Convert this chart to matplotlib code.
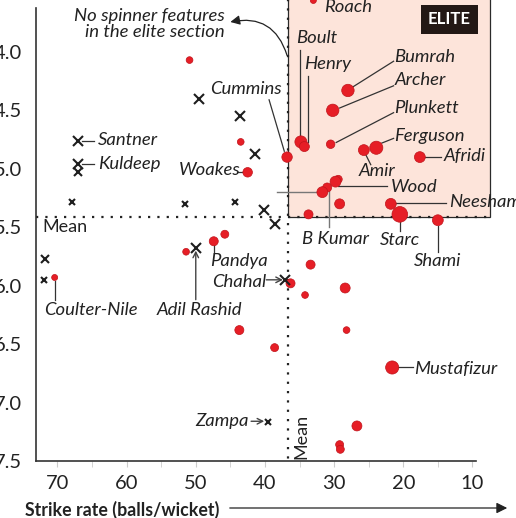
import matplotlib
matplotlib.use('Agg')
import matplotlib.pyplot as plt
from matplotlib.patches import Rectangle
import numpy as np

plt.rcParams['font.family'] = ['Lato', 'DejaVu Sans']

# Pace bowlers: strike rate, economy, wickets (marker area)
pace_names = ['Roach', '', 'Bumrah', 'Archer', '', 'Plunkett', 'Boult', 'Henry',
              'Amir', 'Ferguson', 'Cummins', 'Afridi', 'Woakes', '', 'Wood',
              'B Kumar', '', '', 'Neesham', '', 'Starc', 'Shami', '', 'Pandya',
              '', '', '', '', '', 'Coulter-Nile', '', '', '', 'Mustafizur',
              '', '', '']
pace_sr = [33.0, 50.9, 28.0, 30.2, 43.5, 30.5, 34.8, 34.3,
           25.7, 23.9, 36.8, 17.6, 42.5, 29.4, 29.8,
           31.0, 31.7, 29.2, 21.8, 33.7, 20.5, 15.0, 45.8, 47.4,
           51.4, 33.4, 36.3, 28.4, 34.2, 70.4, 43.7, 28.2, 38.6, 21.6,
           26.7, 29.2, 29.1]
pace_econ = [3.56, 4.07, 4.33, 4.50, 4.77, 4.79, 4.77, 4.81,
             4.84, 4.82, 4.90, 4.90, 5.03, 5.09, 5.11,
             5.16, 5.20, 5.30, 5.30, 5.39, 5.39, 5.44, 5.56, 5.62,
             5.71, 5.82, 5.98, 6.02, 6.08, 5.93, 6.38, 6.38, 6.53, 6.70,
             7.20, 7.36, 7.40]
pace_wkts = [4, 5, 17, 17, 5, 8, 16, 11,
             13, 19, 12, 13, 10, 7, 13,
             9, 13, 11, 13, 9, 27, 13, 7, 9,
             5, 9, 9, 11, 5, 4, 9, 5, 7, 19,
             11, 7, 7]

# Spinners
spin_sr = [67.0, 67.0, 67.0, 67.9, 49.5, 43.6, 41.4, 51.5, 44.3, 40.2,
           38.6, 50.0, 37.1, 71.8, 72.0, 39.6]
spin_econ = [4.76, 4.96, 5.03, 5.28, 4.40, 4.55, 4.87, 5.30, 5.28, 5.35,
             5.47, 5.68, 5.95, 5.77, 5.95, 7.17]
spin_wkts = [10, 10, 9, 4, 10, 10, 10, 4, 4, 10,
             10, 10, 10, 7, 4, 4]

mean_sr = 36.7
mean_econ = 5.41

xticks = [70, 60, 50, 40, 30, 20, 10]
yticks = [4.0, 4.5, 5.0, 5.5, 6.0, 6.5, 7.0, 7.5]

RED = '#e61e26'
TXT = '#222222'
LN = '#333333'
FS = 13.3

fig = plt.figure(figsize=(5.16, 5.18), dpi=100)
ax = fig.add_axes([36 / 516, 57 / 518, 480 / 516, 461 / 518])
ax.set_xlim(73.1, 3.7)
ax.set_ylim(7.5, 3.556)

# elite box
ax.add_patch(Rectangle((mean_sr, 3.3), 7.5 - mean_sr, mean_econ - 3.3,
                       facecolor='#fde4da', edgecolor='#2a2a2a', lw=0.9, zorder=0))
ax.plot([73.1, 7.5], [mean_econ, mean_econ], ls=(0, (1, 3.2)), color='#222', lw=1.6, zorder=1)
ax.plot([mean_sr, mean_sr], [3.3, 7.5], ls=(0, (1, 3.2)), color='#222', lw=1.6, zorder=1)

ax.scatter(pace_sr, pace_econ, s=np.array(pace_wkts) * 4.7, color=RED,
           edgecolor='#c0141b', linewidth=0.5, zorder=4)
for sx, sy, w in zip(spin_sr, spin_econ, spin_wkts):
    ax.plot(sx, sy, marker='x', ms=2.05 * np.sqrt(w), mew=1.5, color='#1e1e1e', zorder=4)

for sp in ['top', 'right']:
    ax.spines[sp].set_visible(False)
ax.spines['left'].set_bounds(7.5, 3.625)
ax.spines['bottom'].set_bounds(73.1, 9.5)
ax.spines['left'].set_color('#333')
ax.spines['bottom'].set_color('#333')
ax.spines['left'].set_linewidth(1.2)
ax.spines['bottom'].set_linewidth(1.2)

ax.set_xticks(xticks)
ax.set_xticks(np.arange(65, 9, -10), minor=True)
ax.set_yticks(yticks)
ax.set_yticklabels(['%.1f' % v for v in yticks])
ax.tick_params(axis='x', which='both', length=4, color='#cccccc', labelsize=14.5,
               labelcolor=TXT, pad=6)
ax.tick_params(axis='y', length=0, labelsize=14.5, labelcolor=TXT, pad=10)

# labels: (text, x, y, ha)
labels = [
    ('Roach', 31.4, 3.616, 'left'), ('Boult', 35.5, 3.88, 'left'),
    ('Henry', 34.3, 4.10, 'left'), ('Bumrah', 21.3, 4.04, 'left'),
    ('Archer', 21.3, 4.24, 'left'), ('Plunkett', 21.3, 4.48, 'left'),
    ('Ferguson', 21.3, 4.72, 'left'), ('Amir', 23.8, 5.02, 'center'),
    ('Afridi', 14.1, 4.89, 'left'), ('Wood', 21.8, 5.16, 'left'),
    ('Neesham', 13.4, 5.28, 'left'), ('Starc', 20.5, 5.61, 'center'),
    ('Shami', 15.0, 5.785, 'center'), ('B Kumar', 29.8, 5.60, 'center'),
    ('Cummins', 47.9, 4.316, 'left'), ('Woakes', 52.5, 5.01, 'left'),
    ('Santner', 64.1, 4.75, 'left'), ('Kuldeep', 64.1, 4.956, 'left'),
    ('Coulter-Nile', 72.0, 6.21, 'left'), ('Adil Rashid', 55.6, 6.21, 'left'),
    ('Pandya', 47.9, 5.785, 'left'), ('Chahal', 47.7, 5.97, 'left'),
    ('Zampa', 50.1, 7.157, 'left'), ('Mustafizur', 18.4, 6.71, 'left'),
]
for t, x, y, ha in labels:
    ax.text(x, y, t, ha=ha, va='center', style='italic', fontsize=FS, color=TXT,
            clip_on=False, zorder=5)

# leader lines
leaders = [
    ([35.0, 35.0], [3.983, 4.726]), ([33.8, 33.8], [4.205, 4.77]),
    ([21.4, 27.3], [4.08, 4.30]), ([21.4, 29.2], [4.29, 4.48]),
    ([21.4, 29.7], [4.52, 4.775]), ([21.4, 23.1], [4.74, 4.78]),
    ([25.5, 24.7], [4.87, 4.965]), ([16.8, 14.5], [4.90, 4.90]),
    ([29.4, 22.4], [5.15, 5.15]), ([21.1, 13.8], [5.29, 5.29]),
    ([20.5, 20.5], [5.45, 5.535]), ([15.0, 15.0], [5.49, 5.71]),
    ([39.4, 37.2], [4.41, 4.85]), ([44.0, 43.1], [5.025, 5.025]),
    ([64.7, 66.4], [4.76, 4.76]), ([64.7, 66.4], [4.956, 4.956]),
    ([70.4, 70.4], [5.96, 6.12]), ([47.4, 47.4], [5.64, 5.71]),
    ([20.7, 18.6], [6.70, 6.70]),
]
for lx, ly in leaders:
    ax.plot(lx, ly, color=LN, lw=0.9, zorder=3)
for lx, ly in [([30.7, 30.7], [5.16, 5.495]), ([38.3, 32.3], [5.195, 5.195])]:
    ax.plot(lx, ly, color='#777777', lw=1.0, zorder=3)

arrows = [((50.0, 5.70), (50.0, 6.12)), ((37.4, 5.95), (39.8, 5.95)),
          ((40.1, 7.16), (42.0, 7.16))]
for tip, start in arrows:
    ax.annotate('', xy=tip, xytext=start,
                arrowprops=dict(arrowstyle='->', color='#444', lw=1.0,
                                shrinkA=0, shrinkB=0), zorder=3)

ax.text(45.8, 3.76, 'No spinner features\nin the elite section', ha='right', va='center',
        multialignment='right', style='italic', fontsize=FS, color=TXT, linespacing=1.05)
ax.annotate('', xy=(45.0, 3.744), xytext=(36.8, 4.03),
            arrowprops=dict(arrowstyle='-|>', color='#222', lw=0.9, mutation_scale=14,
                            connectionstyle='arc3,rad=0.45', shrinkA=0, shrinkB=0),
            annotation_clip=False)

ax.text(72.2, 5.50, 'Mean', ha='left', va='center', fontsize=13, color=TXT)
ax.text(34.7, 7.29, 'Mean', ha='center', va='center', rotation=90, fontsize=13, color=TXT)

ax.text(13.3, 3.72, 'ELITE', ha='center', va='center', fontsize=12, fontweight='bold',
        color='white', zorder=6,
        bbox=dict(boxstyle='square,pad=0.4', facecolor='#231815', edgecolor='none'))

fig.text(25 / 516, 1 - 510 / 518, 'Strike rate (balls/wicket)', ha='left', va='center',
         fontsize=12.8, fontweight='bold', color=TXT)
fig.add_artist(matplotlib.patches.FancyArrowPatch(
    (227 / 516, 1 - 508 / 518), (510 / 516, 1 - 508 / 518), transform=fig.transFigure,
    arrowstyle='-|>', mutation_scale=16, color='#222', lw=0.9))

fig.savefig('out.png', dpi=100)
